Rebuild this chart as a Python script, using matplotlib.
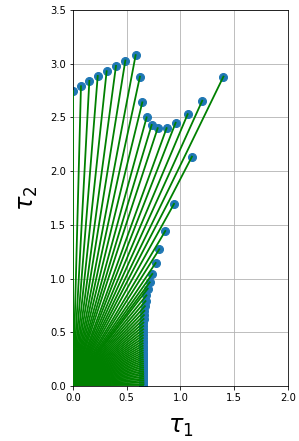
import matplotlib
matplotlib.use("Agg")
import matplotlib.pyplot as plt

# endpoints of the rays (tau1, tau2), angle increasing from 0 to 90 deg
tau1 = [0.656, 0.656, 0.655, 0.655, 0.654, 0.654, 0.653, 0.653, 0.652, 0.652,
        0.652, 0.651, 0.651, 0.651, 0.650, 0.650, 0.650, 0.650, 0.649, 0.649,
        0.649, 0.649, 0.649, 0.650, 0.650, 0.651, 0.652, 0.653, 0.655, 0.657,
        0.660, 0.664, 0.669, 0.675, 0.683, 0.695, 0.714,
        0.738, 0.769, 0.803, 0.859, 0.940, 1.107, 1.400, 1.203, 1.067, 0.955,
        0.871, 0.788, 0.732, 0.685, 0.645, 0.623, 0.583, 0.487, 0.400, 0.313,
        0.230, 0.152, 0.074, 0.000]
tau2 = [0.000, 0.0172, 0.0343, 0.0515, 0.0687, 0.0861, 0.1034, 0.1210, 0.1386, 0.1565,
        0.1747, 0.1928, 0.2115, 0.2305, 0.2495, 0.2692, 0.2894, 0.3100, 0.3307, 0.3524,
        0.3747, 0.3977, 0.4215, 0.4467, 0.4723, 0.4995, 0.5280, 0.5577, 0.5898, 0.6235,
        0.660, 0.6997, 0.7430, 0.7903, 0.8434, 0.9057, 0.965,
        1.043, 1.145, 1.273, 1.443, 1.695, 2.135, 2.880, 2.656, 2.530, 2.450,
        2.400, 2.400, 2.430, 2.500, 2.640, 2.880, 3.080, 3.030, 2.980, 2.930,
        2.886, 2.840, 2.790, 2.750]

xticks = [0.0, 0.5, 1.0, 1.5, 2.0]
yticks = [0.0, 0.5, 1.0, 1.5, 2.0, 2.5, 3.0, 3.5]

fig = plt.figure(figsize=(299 / 72, 441 / 72), dpi=72)
ax = fig.add_axes([0.244, 0.1247, 0.719, 0.8526])

ax.plot(tau1, tau2, 'o', color='tab:blue', ms=8, ls='none', zorder=2)
for x, y in zip(tau1, tau2):
    ax.plot([0, x], [0, y], color='green', lw=1.8, zorder=3)

ax.set_xlim(0, 2.0)
ax.set_ylim(0, 3.5)
ax.set_aspect('equal')
ax.set_xticks(xticks)
ax.set_yticks(yticks)
ax.grid(True)
ax.set_axisbelow(True)
ax.set_xlabel(r'$\tau_1$', fontsize=24, labelpad=12)
ax.set_ylabel(r'$\tau_2$', fontsize=24, labelpad=10)

fig.savefig('out.png', dpi=72)
